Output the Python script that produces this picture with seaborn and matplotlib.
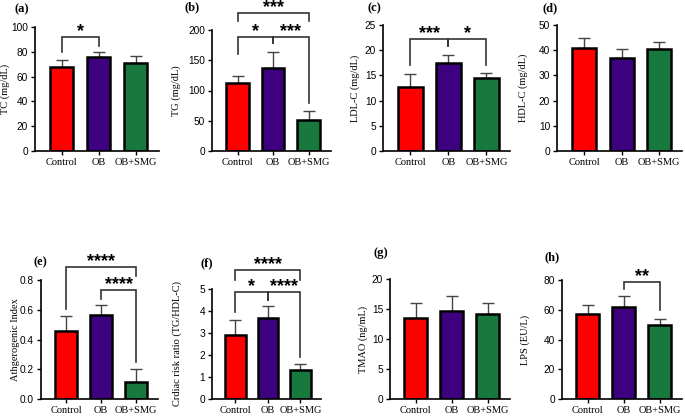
import matplotlib
matplotlib.use("Agg")
import matplotlib.pyplot as plt
import seaborn as sns
import pandas as pd

# Groups and colours shared by all panels
groups = ["Control", "OB", "OB+SMG"]
colors = ["#FF0000", "#3D007F", "#18793F"]

# Means and upper error limits
tc_mean, tc_top = [68, 75.5, 71], [73.5, 79.5, 77]
tg_mean, tg_top = [113, 138, 51], [124, 164, 66]
ldl_mean, ldl_top = [12.6, 17.4, 14.5], [15.3, 19.1, 15.5]
hdl_mean, hdl_top = [41, 37, 40.3], [45, 40.5, 43.3]
ai_mean, ai_top = [0.46, 0.565, 0.115], [0.555, 0.63, 0.2]
crr_mean, crr_top = [2.93, 3.68, 1.3], [3.6, 4.25, 1.6]
tmao_mean, tmao_top = [13.5, 14.7, 14.1], [16, 17.1, 16]
lps_mean, lps_top = [57, 62, 50], [63, 69.5, 53.5]

# Significance brackets: (i, j, bracket height, left leg end, right leg end, label)
tc_sig = [(0, 1, 92, 80, 85, "*")]
tg_sig = [(0, 1, 188, 160, 178, "*"), (1, 2, 188, 178, 79, "***"),
          (0, 2, 228, 215, 215, "***")]
ldl_sig = [(0, 1, 22.2, 17, 20.8, "***"), (1, 2, 22.2, 20.8, 17, "*")]
ai_sig = [(1, 2, 0.733, 0.672, 0.25, "****"), (0, 2, 0.887, 0.605, 0.83, "****")]
crr_sig = [(0, 1, 4.86, 3.95, 4.5, "*"), (1, 2, 4.86, 4.5, 1.9, "****"),
           (0, 2, 5.86, 5.4, 5.4, "****")]
lps_sig = [(1, 2, 78.7, 74, 60, "**")]

plt.rcParams["font.family"] = ["Liberation Sans", "DejaVu Sans"]
SERIF = ["Liberation Serif", "DejaVu Serif"]

W, H = 685, 416
fig = plt.figure(figsize=(W / 100, H / 100), dpi=100)


def panel(px_left, px_base, px_top, spacing, mean, top, ymax, ystep, ylabel, letter,
          letter_xy, sig=(), ylab_x=None, fmt="{:g}"):
    # axes placed by pixel positions of the y-axis line, baseline and top tick
    x0, x1 = -0.72, 2.62
    width = spacing * (x1 - x0)
    ax = fig.add_axes([px_left / W, (H - px_base) / H, width / W, (px_base - px_top) / H])
    df = pd.DataFrame({"group": groups, "value": mean})
    sns.barplot(data=df, x="group", y="value", hue="group", palette=colors, legend=False,
                saturation=1, edgecolor="black", linewidth=1.8, width=0.64, ax=ax, zorder=2)
    err = [t - m for t, m in zip(top, mean)]
    ax.errorbar(range(3), mean, yerr=[[0, 0, 0], err], fmt="none", ecolor="#444444",
                elinewidth=1.0, capsize=4, capthick=1.0, zorder=1)
    ax.set_xlim(x0, x1)
    ax.set_ylim(0, ymax)
    ticks = [i * ystep for i in range(int(round(ymax / ystep)) + 1)]
    ax.set_yticks(ticks)
    ax.set_yticklabels([fmt.format(t) for t in ticks], fontsize=7.3)
    ax.set_xticks(range(3))
    ax.set_xticklabels(groups, fontsize=7.5, family=SERIF)
    ax.set_xlabel("")
    ax.set_ylabel(ylabel, fontsize=7.5, family=SERIF)
    for s in ["top", "right"]:
        ax.spines[s].set_visible(False)
    for s in ["left", "bottom"]:
        ax.spines[s].set_linewidth(1.2)
    ax.tick_params(length=3, width=1.0, pad=2)
    if ylab_x is not None:
        ax.yaxis.set_label_coords((ylab_x - px_left) / width, 0.5)
    for i, j, y, yl, yr, lab in sig:
        ax.plot([i, i, j, j], [yl, y, y, yr], color="#333333", lw=1.2, clip_on=False,
                solid_joinstyle="miter")
        ax.annotate(lab, ((i + j) / 2, y), xytext=(0, 0.5), textcoords="offset points",
                    ha="center", va="baseline", fontsize=13, fontweight="bold",
                    annotation_clip=False)
    fig.text(letter_xy[0] / W, 1 - letter_xy[1] / H, letter, fontsize=9, fontweight="bold",
             family=SERIF, ha="center", va="center")
    return ax


panel(35, 151, 27, 37, tc_mean, tc_top, 100, 20, "TC (mg/dL)", "(a)", (22, 9), tc_sig, ylab_x=10)
panel(212, 151, 30, 35.5, tg_mean, tg_top, 200, 50, "TG (mg/dL)", "(b)", (192, 7), tg_sig, ylab_x=181)
panel(383, 151, 25, 38, ldl_mean, ldl_top, 25, 5, "LDL-C (mg/dL)", "(c)", (374, 8), ldl_sig, ylab_x=360)
panel(557, 151, 25, 37.5, hdl_mean, hdl_top, 50, 10, "HDL-C (mg/dL)", "(d)", (550, 8), ylab_x=528)
panel(41, 399, 280, 35, ai_mean, ai_top, 0.8, 0.2, "Athgerogenic Index", "(e)", (40, 262),
      ai_sig, ylab_x=20, fmt="{:.1f}")
panel(212, 399, 289, 32.5, crr_mean, crr_top, 5, 1, "Crdiac risk ratio (TG/HDL-C)", "(f)",
      (207, 263), crr_sig, ylab_x=182)
panel(390, 399, 279, 36, tmao_mean, tmao_top, 20, 5, "TMAO (ng/mL)", "(g)", (381, 253), ylab_x=368)
panel(562, 399, 280, 36, lps_mean, lps_top, 80, 20, "LPS (EU/L)", "(h)", (552, 257), lps_sig, ylab_x=530)

fig.savefig("out.png", dpi=100)
